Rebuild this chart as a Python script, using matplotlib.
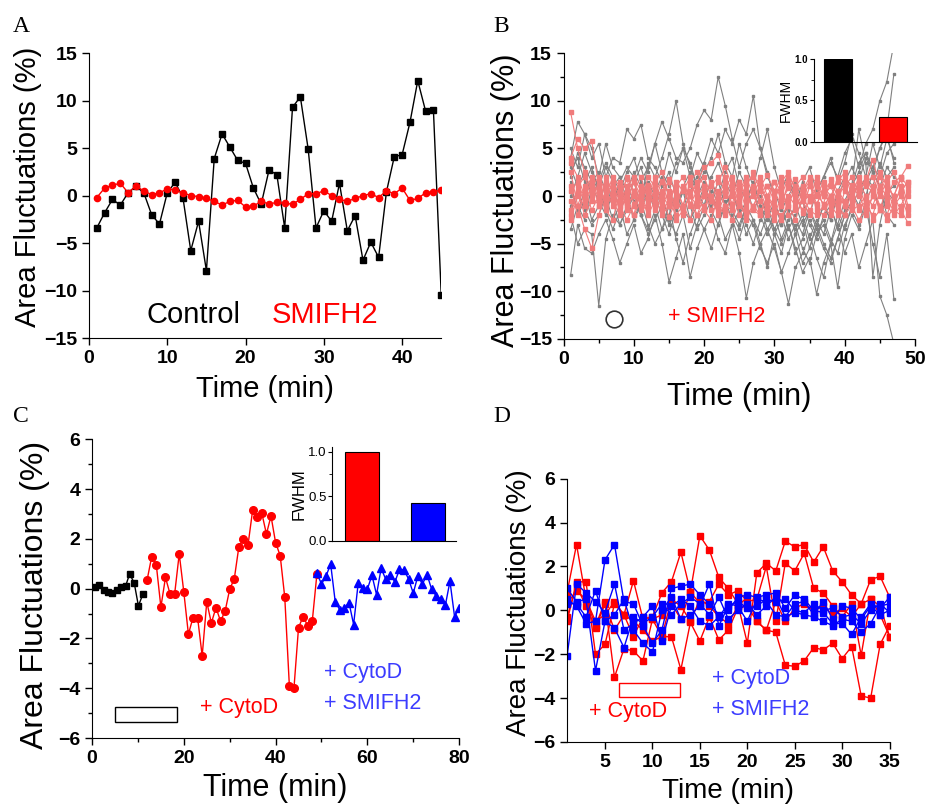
import numpy as np
import matplotlib
matplotlib.use('Agg')
import matplotlib.pyplot as plt
from matplotlib.patches import Rectangle
from matplotlib.ticker import MultipleLocator

plt.rcParams['font.family'] = ['Liberation Sans', 'DejaVu Sans']

# ---- panel A: single cell, control vs SMIFH2
a_time = list(range(1, 46))
a_control = [-3.4, -1.8, -0.4, -1.0, 0.3, 1.0, 0.3, -2.0, -3.0, 0.3,
             1.4, -0.2, -5.8, -2.7, -7.9, 3.9, 6.5, 5.1, 3.7, 3.4,
             0.8, -0.9, 2.7, 2.2, -3.4, 9.3, 10.4, 4.9, -3.4, -1.6,
             -2.7, 1.3, -3.7, -2.1, -6.8, -4.9, -6.5, 0.4, 4.1, 4.3,
             7.7, 12.1, 8.9, 9.0, -10.5]
a_smifh2 = [-0.2, 0.8, 1.1, 1.3, 0.3, 1.0, 0.5, 0.1, 0.3, 0.7,
            0.6, 0.3, 0.0, -0.1, -0.3, -0.6, -1.0, -0.6, -0.5, -1.2,
            -1.1, -0.6, -0.9, -0.7, -0.8, -0.9, -0.4, 0.2, 0.2, 0.5,
            0.0, -0.4, -0.6, -0.3, 0.0, 0.2, -0.2, 0.5, 0.2, 0.8,
            -0.5, -0.3, 0.3, 0.4, 0.6]

# ---- panel B: all cells, control (gray) and SMIFH2 (pink)
b_gray_time = list(range(1, 48))
b_gray = [
    [2.0, 4.5, 3.0, 1.5, 2.5, 0.5, -1.0, 1.5, 3.0, 2.0, 4.0, 2.5, 5.5, 7.8, 6.0, 4.0, 3.5, 5.0, 7.5, 9.0, 8.0, 12.5, 9.5, 6.0, 3.0, 5.5, 7.0, 5.0, 2.0, 0.5, -1.5, 0.0, 1.5, -0.5, -2.0, 0.5, 2.0, 3.5, 2.0, 4.5, 6.0, 3.0, 5.5, 7.0, 10.0, 12.0, 16.0],
    [4.0, 7.8, 6.5, 5.0, 2.0, 5.5, 3.0, 2.0, 0.5, 1.5, -1.0, 3.5, 2.0, 4.0, 6.5, 10.0, 5.5, 3.0, 1.0, 3.5, 6.0, 4.5, 7.0, 5.5, 8.0, 6.5, 10.5, 5.0, 2.5, -0.5, -3.0, -1.5, -4.0, -2.5, -5.5, -3.0, -1.0, -2.5, 0.5, 2.0, 1.0, 3.5, 4.5, 2.5, 5.0, 7.0, 12.8],
    [-2.0, -5.0, -3.5, -4.0, -11.5, -4.5, -2.0, -3.0, -1.0, 0.5, -2.0, -3.5, -1.5, 0.0, -2.5, -4.0, -2.0, -5.5, -3.0, -1.0, 0.5, -2.0, -4.5, -3.0, -6.0, -10.7, -7.0, -5.0, -3.5, -5.5, -8.0, -11.3, -7.5, -6.0, -4.0, -6.5, -8.5, -5.0, -9.6, -4.5, -2.0, -3.5, -1.0, -5.0, -8.5, -4.0, -10.8],
    [-8.3, -3.0, -5.5, -6.0, -4.0, -2.5, -4.5, -7.0, -5.0, -3.0, -6.0, -4.5, -2.0, -5.0, -9.0, -6.5, -4.0, -8.5, -5.5, -3.5, -2.0, -4.5, -6.0, -3.0, -1.5, -4.0, -2.5, -5.0, -7.5, -4.0, -6.0, -3.0, -5.5, -8.0, -6.5, -10.3, -7.0, -5.0, -3.0, -6.0, -4.0, -7.5, -5.0, -2.5, -10.5, -12.5, -15.5],
    [5.0, 3.0, 6.5, 4.0, 5.5, 2.0, 4.0, 3.5, 7.0, 6.0, 7.5, 4.0, 3.0, 1.5, 4.5, 2.5, 5.0, 3.5, 1.0, 2.5, 4.0, 6.5, 3.5, 2.0, 5.5, 3.0, 1.0, 4.0, 7.0, 3.0, 0.5, 2.5, -1.0, 1.5, 3.0, 0.5, 2.0, 4.0, 1.5, 3.5, 6.5, 4.5, 2.0, 5.5, 3.0, 6.0, 4.0],
    [1.0, -1.5, 0.5, -2.5, -1.0, 1.5, -0.5, -3.0, -1.5, 0.0, -2.0, 1.0, -1.0, -3.5, -2.0, 0.5, -1.5, -2.5, 0.0, 1.5, -1.0, -0.5, 1.0, -2.0, -3.5, -1.0, -2.5, -4.0, -2.0, -3.5, -5.0, -3.0, -6.0, -4.5, -2.5, -4.0, -3.0, -5.0, -2.0, -3.5, -1.0, 0.5, 2.0, 1.0, 3.5, 2.0, 3.0],
    [3.0, 1.0, 2.5, 0.0, 1.5, 3.5, 2.0, 0.5, 2.5, 4.0, 1.5, 3.0, 5.5, 2.5, 1.0, 3.5, 5.0, 2.0, 4.5, 3.0, 1.5, 0.0, 2.5, 4.0, 1.0, -0.5, 1.5, -1.0, -2.5, -0.5, -3.0, -1.5, -3.5, -2.0, -4.5, -2.5, -4.0, -1.5, -3.0, -0.5, 1.0, 2.5, 4.5, 3.0, 5.0, 6.5, 3.5],
    [-3.5, -1.0, -2.5, 1.0, -0.5, -2.0, 0.5, -1.0, -4.0, -2.5, -0.5, -3.0, -5.0, -3.5, -1.0, -4.5, -7.0, -4.0, -2.0, -3.5, -5.5, -3.0, -0.5, -2.5, -4.5, -2.0, -3.0, -5.5, -7.0, -5.0, -8.0, -6.0, -4.0, -7.0, -5.5, -3.0, -5.0, -6.5, -4.5, -2.0, -0.5, 1.5, 0.0, 2.5, 1.0, -2.0, -3.0],
    [2.5, 4.0, 1.5, 3.0, 0.5, -1.0, 1.0, 2.0, -0.5, 1.5, 3.0, 0.5, -1.5, 1.0, 2.5, 0.0, -2.0, 0.5, 2.0, 3.5, 1.0, -1.0, 0.5, -1.5, -3.0, -1.0, 0.5, -2.0, -4.0, -2.5, -1.0, -3.5, -2.0, -0.5, -3.0, -4.5, -2.0, -1.0, -3.5, -1.5, 0.5, -1.0, 1.5, 3.0, 2.0, 4.5, 5.5],
    [-1.0, 0.5, -1.5, -3.0, -2.0, 0.0, -2.5, -1.0, 1.0, -0.5, -2.0, -4.0, -2.5, -1.0, -3.0, -1.5, 0.5, -1.0, -3.5, -2.0, -0.5, 1.5, -1.0, 0.5, -1.5, -3.0, -5.0, -2.5, -1.0, -3.5, -2.0, -4.5, -3.0, -5.5, -7.0, -4.0, -2.5, -4.5, -6.0, -3.0, -1.5, -3.0, -0.5, 1.0, -1.5, 0.5, -0.5],
    [0.0, 2.0, 4.5, 2.5, 1.0, 3.0, 1.5, -0.5, 0.5, 2.5, 1.0, -1.0, 0.5, 2.0, 0.0, -1.5, 1.0, 2.5, 0.5, -1.0, 2.0, 3.5, 1.5, 0.0, 2.5, 1.0, -1.5, 0.0, -2.0, -4.0, -2.5, -1.0, -2.5, -4.0, -1.5, -3.0, -1.0, -2.5, 0.0, 1.5, 3.0, 1.5, 4.0, 2.5, 1.0, 3.0, 2.0],
    [1.5, -2.0, -0.5, 2.0, 0.5, -1.5, -3.5, -1.5, 0.0, -2.5, -1.0, 1.5, 0.0, -2.0, -4.0, -1.5, 0.5, -2.5, -1.0, 1.0, -1.5, -3.0, -1.0, 0.5, -2.0, -0.5, 1.5, -1.0, -3.5, -2.0, -4.5, -2.5, -1.0, -3.0, -1.5, -3.5, -5.5, -7.0, -4.5, -2.0, 1.0, 7.0, 3.5, -8.5, -3.0, 0.5, 1.0],
]
b_pink_time = list(range(1, 50))
b_pink = [
    [8.8, 5.0, 2.5, 0.5, 1.0, -0.5, 1.5, 0.0, 1.8, -0.8, 0.5, 1.2, -0.5, 1.6, 0.2, -1.0, 1.0, 0.0, 1.5, 3.0, 3.5, 4.3, 2.0, 0.5, 1.5, -0.5, 1.0, 2.0, 0.0, 1.5, -0.5, 0.8, 1.8, 0.0, 1.2, -0.8, 0.5, 1.5, 0.0, 1.0, 2.0, 0.5, 1.5, 3.8, 1.0, 0.0, 1.5, 2.0, 3.2],
    [4.0, 6.0, 5.0, 5.8, 1.0, -1.0, 0.5, -1.5, 0.0, -2.0, -0.5, 1.0, -1.5, 0.0, -2.2, -0.5, 0.8, -1.0, -2.0, 0.0, -1.5, 0.5, -1.0, -2.5, -0.5, 0.5, -1.5, -2.0, 0.0, -1.0, -2.5, -0.5, 0.5, -1.8, -0.5, 1.0, -1.2, -2.0, 0.0, -1.0, 0.5, -1.5, -0.5, 1.0, -1.0, -2.0, 0.0, -1.5, -2.8],
    [2.5, -1.0, -3.5, -5.5, -2.0, 0.5, -1.0, 1.0, -0.5, 1.5, 0.0, -1.5, 1.0, -0.5, 1.8, 0.5, -1.0, 1.2, 0.0, -1.5, 1.0, 2.0, 0.5, -0.8, 1.5, 0.0, -1.2, 1.0, 2.2, 0.5, -1.0, 1.5, 0.0, -1.5, 1.0, 0.2, -0.8, 1.8, 0.5, -1.0, 1.2, 0.0, 2.0, 0.5, -1.5, 1.0, 0.0, 1.8, -1.0],
    [-1.5, 1.0, 2.0, 0.0, -1.0, 1.5, -0.5, -2.0, 0.5, 1.5, -1.0, 0.0, 2.0, -1.5, -0.5, 1.0, 2.0, -0.8, 0.5, -1.5, -2.5, 0.0, 1.5, -1.0, 0.5, 2.0, 0.0, -1.5, -0.5, 1.5, 0.5, -1.0, 1.0, 2.0, -0.5, 0.0, 1.5, -1.0, -2.0, 0.5, -0.5, 1.5, 0.0, -1.0, 1.0, 2.0, -0.5, 0.5, 1.5],
    [1.0, -2.0, 0.5, 2.0, -0.5, 0.0, 2.0, 1.0, -1.5, 0.5, 2.0, -0.5, 0.5, 1.5, -1.0, 0.0, -2.0, 0.5, 1.0, 2.0, 0.0, -1.0, -2.0, 0.5, 1.0, -1.5, 0.5, 1.5, -1.0, -2.0, 0.0, 2.0, 1.0, -0.5, -2.0, 1.0, 0.0, -0.5, 2.0, 1.5, -1.0, 0.5, -2.0, 0.0, 2.0, 0.5, -1.0, 1.0, -1.5],
    [-2.5, 0.0, -1.0, 1.0, 0.5, -1.5, -2.5, 0.5, -1.0, -2.0, 1.0, 0.5, -1.0, 0.5, 1.5, -2.0, -1.0, -2.5, 0.0, 1.0, -0.5, -1.5, 0.0, 1.5, -2.0, -1.0, 0.5, -0.5, -2.0, 0.0, 1.0, -2.0, -1.5, 0.5, 1.5, -1.5, -2.0, 0.0, -1.0, -2.0, 0.5, 1.0, -1.0, -2.0, 0.5, -0.5, -1.5, -2.0, 0.0],
    [0.5, 1.5, -0.5, 1.0, 2.0, 0.5, 1.0, -0.5, 2.0, 0.5, -1.0, 2.0, 1.0, 0.0, -1.0, 1.5, 0.5, 2.0, -0.5, 0.0, 1.5, -0.5, 1.0, 2.0, 0.5, 1.5, 2.0, -0.5, 1.0, 0.5, 2.0, 1.0, -0.5, 0.5, 2.0, 1.5, 0.0, 1.0, -0.5, 2.0, 1.0, 0.5, 1.5, 2.0, 0.0, 1.5, 2.5, 0.5, 1.5],
    [-0.5, -1.0, 1.0, -1.5, 0.0, 1.0, 0.0, 1.5, -1.0, 0.0, -1.5, -1.0, 0.0, -2.0, -1.0, -0.5, -1.5, 0.0, -1.0, 0.5, -0.5, -1.0, -1.5, 0.0, -1.0, -2.0, -1.0, 0.5, -1.5, -2.5, -1.0, 0.0, -1.0, -0.5, 0.0, -1.0, 1.0, -1.5, 0.5, -0.5, -1.5, -1.0, 0.0, -2.5, -1.5, -1.0, -2.0, -1.0, 0.5],
    [3.5, 2.0, 0.0, 1.5, -1.0, 2.0, 0.5, -1.0, 1.0, 2.0, 0.5, -0.5, 1.5, 2.5, 0.0, 1.0, -1.0, 1.5, 2.5, 1.0, -0.5, 1.5, 3.0, 1.0, -0.5, 1.0, 2.5, 0.5, 1.0, -0.5, 1.5, 2.5, 0.5, 1.0, -0.5, 2.0, 1.0, 0.0, 1.5, 2.5, 0.0, 2.0, 1.0, 0.5, 2.5, 1.0, 0.0, 2.0, 1.0],
    [-2.0, 0.5, -2.0, -0.5, 1.5, -1.0, 0.0, -1.0, -2.5, -1.0, 0.0, -2.0, -0.5, -1.0, 0.5, -2.5, -1.5, 0.0, -2.0, -1.0, 0.0, -2.0, -1.0, -1.5, 0.0, -2.5, -1.0, -2.0, 0.0, -1.5, -2.0, -1.0, -2.5, 0.0, -1.5, -2.0, -1.0, 0.0, -1.5, -2.0, -1.0, -2.5, -1.5, 0.0, -1.0, -2.5, -1.0, 0.0, -2.0],
]
b_fwhm_labels = ['Control', 'SMIFH2']
b_fwhm = [1.0, 0.3]

# ---- panel C: one cell, control -> CytoD -> CytoD + SMIFH2
c_ctrl_time = [0.6, 1.6, 2.5, 3.5, 4.4, 5.4, 6.3, 7.3, 8.2, 9.2, 10.1, 11.1]
c_ctrl = [0.08, 0.15, -0.05, -0.15, -0.18, -0.07, 0.08, 0.1, 0.6, 0.22, -0.69, -0.21]
c_cyto_time = list(range(12, 50))
c_cyto = [0.35, 1.29, 0.96, -0.74, 0.45, -0.21, -0.21, 1.4, -0.14, -1.83,
          -1.16, -1.16, -2.7, -0.53, -1.38, -0.76, -1.3, -0.9, -0.02, 0.4,
          1.69, 1.99, 1.77, 3.16, 2.87, 3.03, 2.2, 2.92, 1.85, 1.33,
          -0.35, -3.9, -4.0, -1.56, -1.12, -1.49, -1.29, 0.58]
c_both_time = list(range(49, 81))
c_both = [0.62, 0.19, 0.51, 0.99, -0.53, -0.85, -0.78, -0.56, -1.44, 0.22,
          0.02, -0.02, 0.54, -0.24, 0.82, 0.38, 0.57, 0.27, 0.78, 0.75,
          0.38, -0.18, 0.51, 0.19, 0.57, -0.02, -0.29, -0.42, -0.66, 0.3,
          -1.12, -0.77]
c_fwhm_labels = ['CytoD', 'CytoD + SMIFH2']
c_fwhm = [1.0, 0.42]

# ---- panel D: several cells, CytoD (red) and CytoD + SMIFH2 (blue)
d_time = list(range(1, 36))
d_cyto = [
    [-0.5, 1.3, 1.3, -2.0, -1.55, 0.3, -0.2, 1.35, -0.4, -0.3, 0.8, 1.3, 2.65, 0.85, 3.4, 2.75, 1.5, 1.0, 0.3, -1.5, 1.7, 2.15, 1.8, 3.15, 2.9, 3.0, 2.2, 2.9, 1.8, 1.3, 0.7, 0.3, 1.4, 1.55, 0.6],
    [0.8, 3.0, 0.5, -0.7, 0.4, -3.05, -1.75, -1.85, -2.3, -0.4, -1.2, -1.2, -2.7, -0.55, -1.4, -0.3, -1.35, -0.9, 0.1, 0.2, -0.5, -0.9, -1.0, -2.5, -2.55, -2.3, -1.7, -1.8, -1.5, -2.2, -1.65, -3.9, -4.0, -1.55, -0.7],
    [0.3, 0.9, 0.5, -0.5, -0.2, 0.4, -0.2, -1.2, -0.3, -0.4, -0.2, 0.3, -0.4, 0.85, 0.3, 0.4, 1.2, 0.7, 0.9, 0.4, 0.5, 2.0, -0.5, 2.15, 1.8, 2.6, 1.0, 0.8, 0.2, -0.3, 0.3, -2.05, 0.5, 0.2, -1.2],
    [-0.3, 1.1, 0.2, -0.8, 0.3, -0.9, -0.2, -0.5, -0.9, -1.4, -1.2, 0.5, 0.2, -0.5, 0.5, 0.2, -0.3, -0.6, 0.2, 0.6, -0.5, -0.9, 0.4, -0.5, 0.1, 0.3, 0.0, 0.2, -0.2, 0.1, -0.3, 0.3, 0.5, -0.2, -1.2],
]
d_both = [
    [0.5, 0.2, -0.6, -0.5, 2.3, 3.0, 0.4, 0.3, -0.7, -1.5, -0.9, 1.0, 1.1, 1.2, 0.7, 0.3, -0.2, 0.0, 0.6, 0.7, 0.6, 0.7, 0.8, 0.1, 0.7, 0.5, 0.0, -0.1, -0.6, -0.6, -1.1, -0.3, 0.3, 0.1, 0.6],
    [-2.1, 1.2, 0.8, 0.4, -0.1, 1.2, -0.9, -0.6, -0.3, 0.2, -1.4, 0.2, 0.5, 0.2, -0.5, -0.7, -0.3, 0.3, 0.2, -0.5, 0.5, 0.4, -0.2, -0.3, -0.1, -0.2, -0.3, -0.5, -0.7, -0.4, -0.5, -1.0, -0.6, 0.2, 0.3],
    [1.0, 0.4, 0.5, -2.75, -0.5, -0.2, 0.5, -0.9, -1.5, -1.9, 0.0, 0.6, -0.4, -0.2, 0.2, 1.2, -0.7, 0.2, 0.4, 0.1, 0.2, 0.5, 0.4, 0.5, 0.0, -0.1, 0.3, 0.0, 0.1, -0.3, -0.2, -0.6, 0.0, 0.3, -0.1],
    [0.3, 0.3, -0.3, 0.9, -0.5, -0.8, -1.7, -0.3, -0.6, -0.3, 0.3, -0.2, 0.3, 0.6, 0.3, -0.2, 0.6, -0.4, 0.0, 0.3, -0.2, 0.2, 0.6, -0.3, 0.3, 0.4, -0.2, 0.4, -0.4, 0.2, 0.1, -0.4, 0.2, -0.2, 0.0],
]

RED = '#ff0000'
BLUE = '#0000ff'
LBLUE = '#3c3cff'
GRAY = '#808080'
PINK = '#f07b7b'


def style(ax, fs=14):
    ax.spines['top'].set_visible(False)
    ax.spines['right'].set_visible(False)
    ax.tick_params(which='major', direction='out', length=5, width=1, labelsize=fs)
    ax.tick_params(which='minor', direction='out', length=3, width=1)
    for lab in ax.get_xticklabels() + ax.get_yticklabels():
        lab.set_fontweight('bold')


def inset(ax, rect, values, colors, label_fs, tick_fs, bold, ymax):
    ins = ax.inset_axes(rect)
    ins.patch.set_alpha(0)
    ins.bar([1, 2], values, width=0.51, color=colors, edgecolor='black', linewidth=0.8)
    ins.set_xlim(0.55, 2.43)
    ins.set_ylim(0, ymax)
    ins.set_xticks([])
    ins.set_yticks([0.0, 0.5, 1.0])
    ins.yaxis.set_minor_locator(MultipleLocator(0.25))
    ins.spines['top'].set_visible(False)
    ins.spines['right'].set_visible(False)
    ins.tick_params(which='major', length=3, labelsize=tick_fs, pad=1)
    ins.tick_params(which='minor', length=2)
    for lab in ins.get_yticklabels():
        lab.set_fontweight('bold' if bold else 'normal')
    ins.set_ylabel('FWHM', fontsize=label_fs, labelpad=1)
    return ins


fig = plt.figure(figsize=(9.27, 8.05), dpi=100)

# ---------------- A
axA = fig.add_axes([0.096, 0.580, 0.380, 0.354])
axA.plot(a_time, a_control, '-s', color='black', lw=1, ms=4)
axA.plot(a_time, a_smifh2, '-o', color=RED, lw=1, ms=4.5)
axA.set_xlim(0, 45)
axA.set_ylim(-15, 15)
axA.set_xticks([0, 10, 20, 30, 40])
axA.set_yticks(range(-15, 16, 5))
style(axA)
axA.text(7.3, -12.6, 'Control', fontsize=21, color='black', va='center')
axA.text(23.3, -12.6, 'SMIFH2', fontsize=21, color=RED, va='center')
axA.set_ylabel('Area Fluctuations (%)', fontsize=21)
axA.set_xlabel('Time (min)', fontsize=21)
axA.yaxis.set_label_coords(-0.134, 0.53)
axA.xaxis.set_label_coords(0.5, -0.13)

# ---------------- B
axB = fig.add_axes([0.608, 0.579, 0.379, 0.355])
for tr in b_gray:
    axB.plot(b_gray_time, tr, '-s', color=GRAY, lw=0.8, ms=1.8)
for tr in b_pink:
    axB.plot(b_pink_time, tr, '-s', color=PINK, lw=0.8, ms=2.8)
axB.plot([7.1], [-12.9], 'o', ms=12, mfc='none', mec='#333333', mew=1.2)
axB.text(14.8, -12.6, '+ SMIFH2', fontsize=15.5, color=RED, va='center')
axB.set_xlim(0, 50)
axB.set_ylim(-15, 15)
axB.set_xticks(range(0, 51, 10))
axB.set_yticks(range(-15, 16, 5))
axB.xaxis.set_minor_locator(MultipleLocator(5))
axB.yaxis.set_minor_locator(MultipleLocator(2.5))
style(axB)
axB.set_ylabel('Area Fluctuations (%)', fontsize=22)
axB.set_xlabel('Time (min)', fontsize=22)
axB.yaxis.set_label_coords(-0.12, 0.486)
axB.xaxis.set_label_coords(0.5, -0.15)
inset(axB, [0.712, 0.69, 0.293, 0.29], b_fwhm, ['black', RED], 10, 7, True, 1.0)

# ---------------- C
axC = fig.add_axes([0.0993, 0.0832, 0.396, 0.371])
axC.plot(c_ctrl_time, c_ctrl, '-s', color='black', lw=1, ms=5)
axC.plot(c_cyto_time, c_cyto, '-o', color=RED, lw=1, ms=5.5)
axC.plot(c_both_time, c_both, '-^', color=BLUE, lw=1, ms=6)
axC.add_patch(Rectangle((4.94, -5.35), 13.5, 0.61, fill=False, edgecolor='black', lw=1))
axC.text(23.5, -4.78, '+ CytoD', fontsize=15.5, color=RED, va='center')
axC.text(50.5, -3.38, '+ CytoD', fontsize=15.5, color=LBLUE, va='center')
axC.text(50.5, -4.62, '+ SMIFH2', fontsize=15.5, color=LBLUE, va='center')
axC.set_xlim(0, 80)
axC.set_ylim(-6, 6)
axC.set_xticks(range(0, 81, 20))
axC.set_yticks(range(-6, 7, 2))
axC.xaxis.set_minor_locator(MultipleLocator(10))
axC.yaxis.set_minor_locator(MultipleLocator(1))
style(axC)
axC.set_ylabel('Area Fluctuations (%)', fontsize=23)
axC.set_xlabel('Time (min)', fontsize=22)
axC.yaxis.set_label_coords(-0.114, 0.478)
axC.xaxis.set_label_coords(0.5, -0.118)
inset(axC, [0.654, 0.66, 0.338, 0.315], c_fwhm, [RED, BLUE], 12, 9.5, False, 1.056)

# ---------------- D
axD = fig.add_axes([0.6117, 0.0783, 0.348, 0.327])
for tr in d_cyto:
    axD.plot(d_time, tr, '-s', color=RED, lw=1, ms=4)
for tr in d_both:
    axD.plot(d_time, tr, '-s', color=BLUE, lw=1, ms=4)
axD.add_patch(Rectangle((6.47, -3.94), 6.39, 0.64, fill=False, edgecolor=RED, lw=1))
axD.text(3.3, -4.62, '+ CytoD', fontsize=15.5, color=RED, va='center')
axD.text(16.3, -3.12, '+ CytoD', fontsize=15.5, color=LBLUE, va='center')
axD.text(16.3, -4.53, '+ SMIFH2', fontsize=15.5, color=LBLUE, va='center')
axD.set_xlim(1, 35)
axD.set_ylim(-6, 6)
axD.set_xticks(range(5, 36, 5))
axD.set_yticks(range(-6, 7, 2))
style(axD)
axD.set_ylabel('Area Fluctuations (%)', fontsize=20)
axD.set_xlabel('Time (min)', fontsize=20)
axD.yaxis.set_label_coords(-0.108, 0.53)
axD.xaxis.set_label_coords(0.5, -0.137)

# panel letters
for letter, x, y in [('A', 13, 32), ('B', 493, 32), ('C', 13, 422), ('D', 493, 422)]:
    fig.text(x / 927, 1 - y / 805, letter, fontsize=17, family='Liberation Serif')

fig.savefig('out.png', dpi=100)
